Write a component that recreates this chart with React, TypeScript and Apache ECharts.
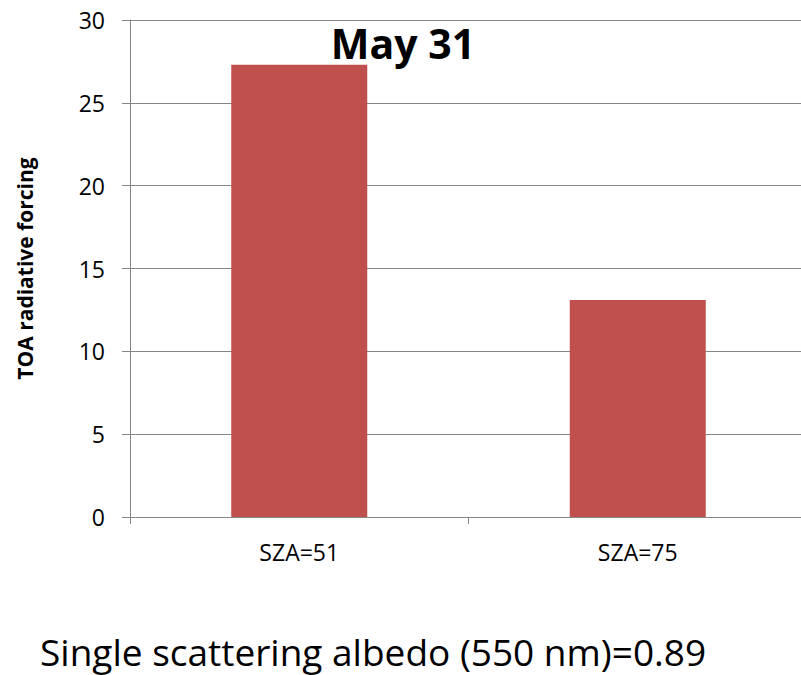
import React, { useEffect, useRef } from "react";
import * as echarts from "echarts";

// Chart data
const categories = ["SZA=51", "SZA=75"];
const forcingValues = [27.3, 13.1];
const yMin = 0;
const yMax = 30;
const yStep = 5;

const chartTitle = "May 31";
const yAxisName = "TOA radiative forcing";
const footnote = "Single scattering albedo (550 nm)=0.89";

const FONT = "'Open Sans', 'Noto Sans', sans-serif";
const AXIS_GRAY = "#868686";
const BAR_RED = "#C0504D";

export default function App() {
  const ref = useRef<HTMLDivElement>(null);

  useEffect(() => {
    if (!ref.current) return;
    const chart = echarts.init(ref.current, null, { renderer: "svg" });
    chart.setOption({
      animation: false,
      backgroundColor: "#ffffff",
      textStyle: { fontFamily: FONT },
      // the plot runs a few pixels past the visible right edge
      grid: { left: 130, right: 0, top: 20, bottom: 158, containLabel: false },
      xAxis: {
        type: "category",
        data: categories,
        boundaryGap: true,
        axisLine: { show: true, lineStyle: { color: AXIS_GRAY, width: 1 } },
        axisTick: { show: true, alignWithLabel: false, length: 7, lineStyle: { color: AXIS_GRAY } },
        axisLabel: { color: "#000", fontSize: 23, fontFamily: FONT, margin: 23 },
      },
      yAxis: {
        type: "value",
        min: yMin,
        max: yMax,
        interval: yStep,
        name: yAxisName,
        nameLocation: "middle",
        nameGap: 95,
        nameRotate: 90,
        nameTextStyle: { color: "#000", fontSize: 21, fontWeight: "bold", fontFamily: FONT },
        axisLine: { show: true, lineStyle: { color: AXIS_GRAY, width: 1 } },
        axisTick: { show: true, length: 8, lineStyle: { color: AXIS_GRAY } },
        axisLabel: { color: "#000", fontSize: 23, fontFamily: FONT, margin: 25 },
        splitLine: { show: true, lineStyle: { color: AXIS_GRAY, width: 1 } },
      },
      series: [
        {
          type: "bar",
          data: forcingValues,
          barWidth: 136,
          itemStyle: { color: BAR_RED },
        },
      ],
      graphic: [
        {
          type: "text",
          x: 403,
          y: 43,
          style: {
            text: chartTitle,
            fill: "#000",
            font: `bold 41px ${FONT}`,
            textAlign: "center",
            textVerticalAlign: "middle",
          },
          z: 100,
        },
        {
          type: "text",
          x: 40,
          y: 651,
          style: {
            text: footnote,
            fill: "#000",
            font: `37px ${FONT}`,
            lineHeight: 40,
            textAlign: "left",
            textVerticalAlign: "middle",
          },
        },
      ],
    });
    return () => chart.dispose();
  }, []);

  return (
    <div
      style={{
        position: "absolute",
        left: 0,
        top: 0,
        width: 801,
        height: 675,
        overflow: "hidden",
      }}
    >
      <div ref={ref} style={{ width: 807, height: 675 }} />
    </div>
  );
}
